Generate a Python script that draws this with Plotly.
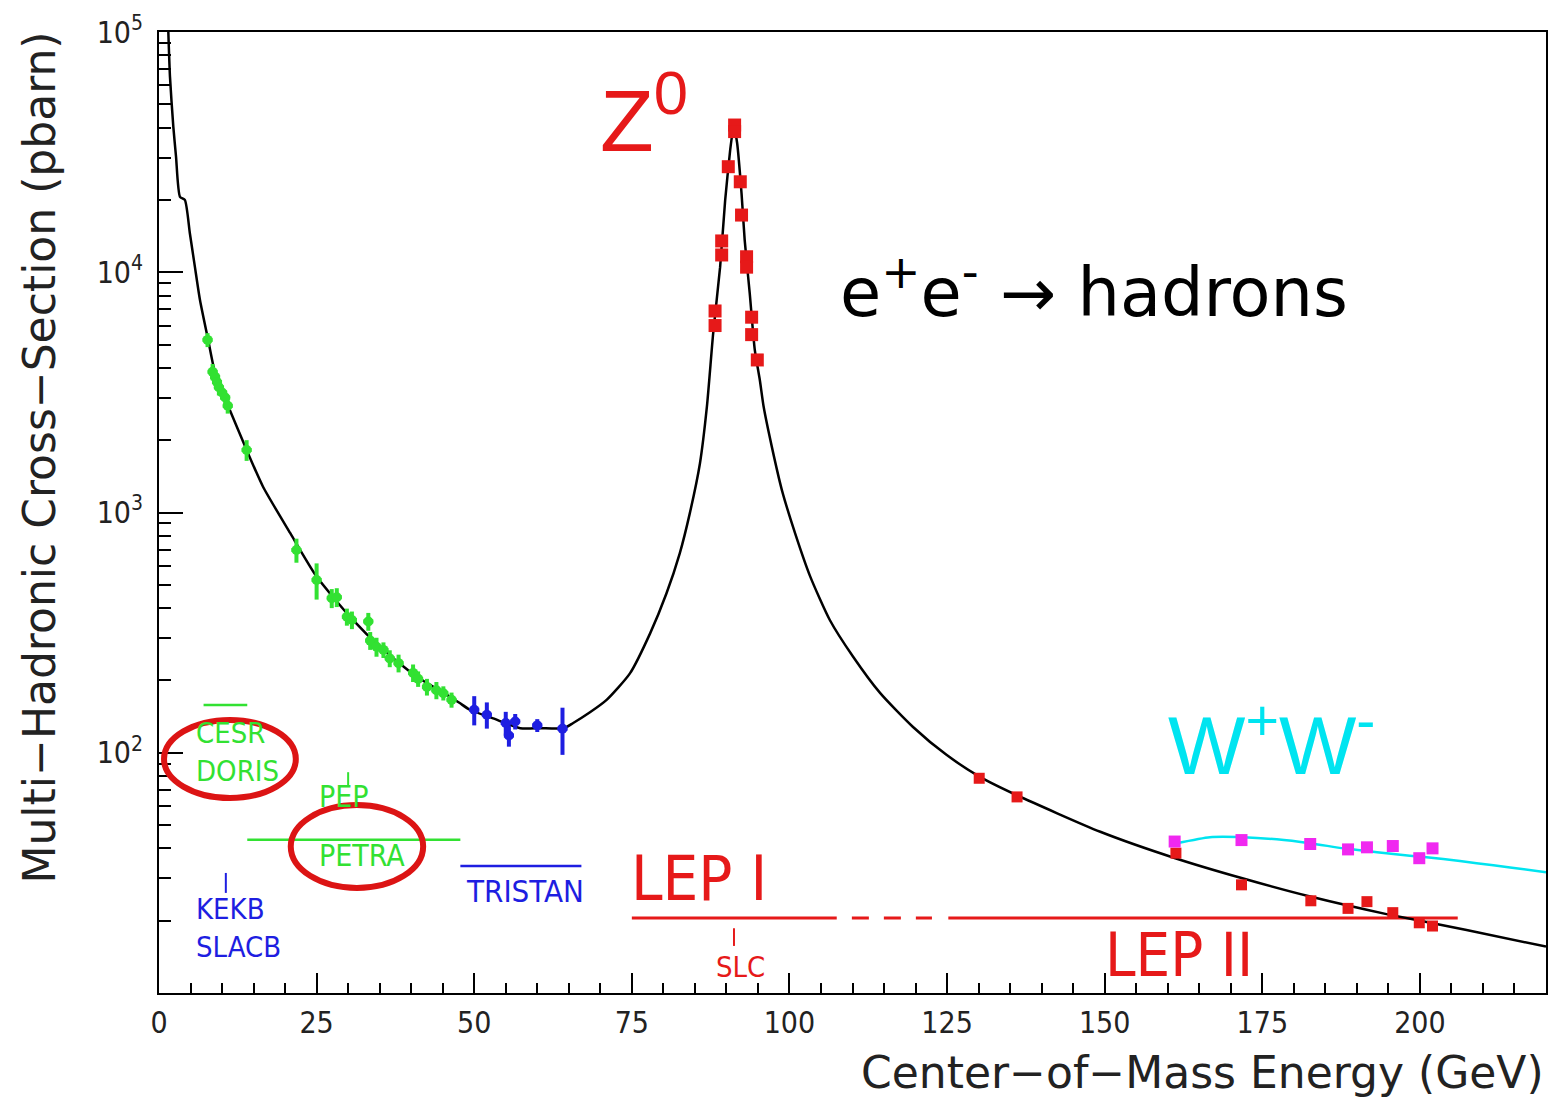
import math
import plotly.graph_objects as go

# ---------------- data ----------------
# Theory curve: e+e- -> hadrons cross-section (pb) vs centre-of-mass energy (GeV)
curve_E = [1.48, 1.74, 2.27, 2.7, 3.33, 4.1, 4.9, 5.7, 6.5, 7.8, 9.15, 11.0, 13.9, 16.5,
           20.8, 25.0, 30.3, 35.6, 40.9, 46.2, 47.7, 49.3, 53.0, 57.3, 60.4, 64.2, 65.7,
           68.3, 71.0, 74.7, 77.9, 80.5, 82.6, 84.2, 85.8, 86.9, 87.9, 89.0, 89.8, 90.6,
           91.0, 91.2, 91.7, 92.4, 92.9, 93.7, 94.5, 95.3, 95.9, 97.2, 98.8, 100.9, 103.3,
           106.4, 110.1, 114.4, 119.6, 124.9, 130.2, 136.0, 149.3, 161.2, 171.7, 182.6,
           194.7, 207.4, 220.0]
curve_s = [100000, 65200, 40400, 30300, 20600, 20000, 14500, 10500, 7660, 5220, 3560, 2760,
           1820, 1280, 822, 541, 368, 268, 207, 171, 161, 151, 139, 126.5, 126.5, 126.5, 133,
           147, 166, 214, 314, 461, 676, 994, 1600, 2750, 5570, 10500, 19900, 32300,
           38400, 40400, 34500, 21300, 13600, 8160, 4750, 3560, 2760, 1880, 1240, 819, 541,
           357, 251, 177, 128, 98, 79.4, 66.7, 46.9, 36.4, 30.1, 25.2, 21.3, 18.3, 15.6]

# Low-energy data (CESR/DORIS/PEP/PETRA) - green
green_E = [7.7, 8.5, 8.9, 9.2, 9.5, 10.0, 10.5, 10.9, 13.9, 21.8, 25.0, 27.4, 28.2, 29.8,
           30.6, 33.2, 33.5, 34.5, 35.6, 36.6, 38.0, 40.3, 41.1, 42.5, 44.0, 45.1, 46.4]
green_s = [5230, 3850, 3670, 3490, 3320, 3160, 3010, 2780, 1820, 698, 524, 440, 444, 368,
           357, 352, 293, 276, 268, 247, 236, 215, 203, 188, 182, 177, 166]
green_err = [350, 300, 250, 250, 250, 200, 200, 200, 180, 80, 90, 40, 40, 30, 30, 30, 25,
             25, 20, 20, 20, 18, 15, 15, 15, 12, 12]

# TRISTAN data - blue
blue_E = [50.0, 52.0, 55.0, 55.5, 56.5, 60.0, 64.0]
blue_s = [151, 144, 133, 118, 135, 130, 126]
blue_err = [21, 18, 15, 12, 10, 8, 28]

# LEP I Z-peak data - red
z_E = [88.2, 88.2, 89.25, 89.25, 90.3, 91.3, 91.3, 92.2, 92.4, 93.2, 93.2, 94.0, 94.0, 94.9]
z_s = [6900, 6000, 13500, 11800, 27500, 41000, 38500, 23800, 17300, 11600, 10500, 6500,
       5500, 4315]

# LEP II hadronic data - red
lep2_E = [130.1, 136.1, 161.3, 171.7, 182.7, 188.6, 191.6, 195.7, 199.9, 202.0]
lep2_s = [78.3, 65.5, 38.2, 28.2, 24.2, 22.5, 24.0, 21.6, 19.6, 19.0]

# W+W- data (magenta) and its curve (cyan)
ww_E = [161.1, 171.7, 182.6, 188.6, 191.6, 195.7, 199.9, 202.0]
ww_s = [42.7, 43.3, 41.7, 39.6, 40.4, 40.9, 36.4, 40.0]
wwfit_E = [161.4, 166.7, 172.0, 177.3, 182.6, 187.9, 193.2, 198.4, 203.7, 209.0, 214.3, 220.0]
wwfit_s = [42.0, 44.5, 44.5, 43.6, 42.0, 40.0, 38.5, 37.3, 36.1, 34.7, 33.3, 31.8]

# Collider energy ranges
cesr_E, cesr_s = [7.07, 14.0], [158, 158]
petra_E, petra_s = [14.0, 47.8], [43.4, 43.4]
tristan_E, tristan_s = [47.8, 67.0], [33.8, 33.8]
lep1_E, lep_s = [75.0, 107.5], [20.5, 20.5]
lepgap_E = [109.9, 122.6]
lep2line_E = [125.2, 206.0]
pep_tick_E, pep_tick_s = [30.0, 30.0], [83, 72]
kekb_tick_E, kekb_tick_s = [10.6, 10.6], [31.6, 26.1]
slc_tick_E, slc_tick_s = [91.2, 91.2], [18.6, 15.7]

# axis ticks
x_ticks = [0, 25, 50, 75, 100, 125, 150, 175, 200]
y_ticks = [1e2, 1e3, 1e4, 1e5]
y_ticktext = ["10<sup>2</sup>", "10<sup>3</sup>", "10<sup>4</sup>", "10<sup>5</sup>"]
y_minor = [k * 10 ** d for d in range(1, 5) for k in range(2, 10)]

# ---------------- styling ----------------
GREEN = "rgb(50,225,50)"
BLUE = "rgb(30,30,225)"
RED = "rgb(230,25,25)"
MAGENTA = "rgb(240,40,240)"
CYAN = "rgb(0,228,240)"
NARROW = "Liberation Sans Narrow, DejaVu Sans Condensed, Arial Narrow, sans-serif"
SANS = "Liberation Sans, Arial, sans-serif"
ROOTF = "DejaVu Sans, sans-serif"

fig = go.Figure()

def seg(x, y, color, width=2.5, dash="solid", shape="linear"):
    fig.add_trace(go.Scatter(x=x, y=y, mode="lines", hoverinfo="skip",
                             line=dict(color=color, width=width, dash=dash, shape=shape,
                                       smoothing=0.6 if shape == "spline" else None)))

# collider ranges
seg(cesr_E, cesr_s, GREEN, 2.5)
seg(petra_E, petra_s, GREEN, 2.5)
seg(tristan_E, tristan_s, BLUE, 2.5)
seg(lep1_E, lep_s, RED, 3)
seg(lepgap_E, lep_s, RED, 3, "17px,15px")
seg(lep2line_E, lep_s, RED, 3)
seg(pep_tick_E, pep_tick_s, GREEN, 2)
seg(kekb_tick_E, kekb_tick_s, BLUE, 2)
seg(slc_tick_E, slc_tick_s, RED, 2)

# theory curves
seg(curve_E, curve_s, "black", 2.5, shape="spline")
seg(wwfit_E, wwfit_s, CYAN, 2.5, shape="spline")

# data points
fig.add_trace(go.Scatter(x=green_E, y=green_s, mode="markers",
                         marker=dict(color=GREEN, size=10),
                         error_y=dict(type="data", array=green_err, color=GREEN,
                                      thickness=4, width=0),
                         error_x=dict(type="constant", value=0.8, color=GREEN,
                                      thickness=4, width=0)))
fig.add_trace(go.Scatter(x=blue_E, y=blue_s, mode="markers",
                         marker=dict(color=BLUE, size=10),
                         error_y=dict(type="data", array=blue_err, color=BLUE,
                                      thickness=4, width=0),
                         error_x=dict(type="constant", value=0.8, color=BLUE,
                                      thickness=4, width=0)))
fig.add_trace(go.Scatter(x=z_E, y=z_s, mode="markers",
                         marker=dict(color=RED, size=13, symbol="square")))
fig.add_trace(go.Scatter(x=lep2_E, y=lep2_s, mode="markers",
                         marker=dict(color=RED, size=11, symbol="square")))
fig.add_trace(go.Scatter(x=ww_E, y=ww_s, mode="markers",
                         marker=dict(color=MAGENTA, size=12, symbol="square")))

# ---------------- annotations ----------------
def lab(text, x, y, color, size, family=NARROW, xanchor="center"):
    return dict(text=text, x=x, y=math.log10(y), xref="x", yref="y", showarrow=False,
                xanchor=xanchor, yanchor="middle", align="left",
                font=dict(color=color, size=size, family=family))

annos = [
    lab("CESR<br>DORIS", 5.5, 101.0, GREEN, 29, xanchor="left"),
    lab("PEP", 25.1, 65.5, GREEN, 30, xanchor="left"),
    lab("PETRA", 25.1, 37.5, GREEN, 30, xanchor="left"),
    lab("KEKB<br>SLACB", 5.5, 18.6, BLUE, 29, xanchor="left"),
    lab("TRISTAN", 48.3, 26.6, BLUE, 31, xanchor="left"),
    lab("LEP I", 85.65, 30.0, RED, 63),
    lab("LEP II", 161.8, 14.4, RED, 61),
    lab("SLC", 92.16, 12.8, RED, 29),
    lab("Z<sup>0</sup>", 76.85, 45400, RED, 88, SANS),
    lab("W<sup>+</sup>W<sup>-</sup>", 176.5, 113.5, CYAN, 82, SANS),
    lab("e<sup>+</sup>e<sup>-</sup> \u2192 hadrons", 148.3, 8590, "black", 67, ROOTF),
    dict(text="Center\u2212of\u2212Mass Energy (GeV)", x=1.0, y=-0.0832, xref="paper",
         yref="paper", xanchor="right", yanchor="middle", showarrow=False,
         font=dict(size=44, family=ROOTF, color="#222")),
    dict(text="Multi\u2212Hadronic Cross\u2212Section (pbarn)", x=-0.0858, y=0.5572,
         xref="paper", yref="paper", xanchor="center", yanchor="middle", textangle=-90,
         showarrow=False, font=dict(size=44, family=ROOTF, color="#222")),
]

shapes = [
    dict(type="circle", xref="x", yref="paper", x0=0.8, x1=21.7, y0=0.2029, y1=0.2841,
         line=dict(color="rgb(220,20,20)", width=6)),
    dict(type="circle", xref="x", yref="paper", x0=20.9, x1=41.9, y0=0.1093, y1=0.1956,
         line=dict(color="rgb(220,20,20)", width=6)),
]

fig.update_layout(
    width=1554, height=1101,
    margin=dict(l=159, r=8, t=32, b=108, autoexpand=False),
    paper_bgcolor="white", plot_bgcolor="white",
    showlegend=False,
    annotations=annos, shapes=shapes,
    xaxis=dict(range=[0, 220], tickmode="array", tickvals=x_ticks, automargin=False,
               ticks="inside", ticklen=20, tickwidth=2, tickcolor="black",
               showline=True, linecolor="black", linewidth=2, mirror=True,
               showgrid=False, zeroline=False,
               minor=dict(dtick=5, tick0=0, ticks="inside", ticklen=10, tickwidth=2,
                          tickcolor="black", showgrid=False),
               tickfont=dict(size=30, family=NARROW, color="#222"),
               ticklabelstandoff=2),
    yaxis=dict(type="log", range=[1, 5], tickmode="array", tickvals=y_ticks,
               ticktext=y_ticktext, automargin=False,
               ticks="inside", ticklen=24, tickwidth=2, tickcolor="black",
               showline=True, linecolor="black", linewidth=2, mirror=True,
               showgrid=False, zeroline=False,
               minor=dict(tickmode="array", tickvals=y_minor, ticks="inside", ticklen=12,
                          tickwidth=2, tickcolor="black", showgrid=False),
               tickfont=dict(size=30, family=NARROW, color="#222"),
               ticklabelstandoff=8),
)

fig.write_html("out.html", config={"displayModeBar": False},
               post_script="document.body.style.margin='0px';")
